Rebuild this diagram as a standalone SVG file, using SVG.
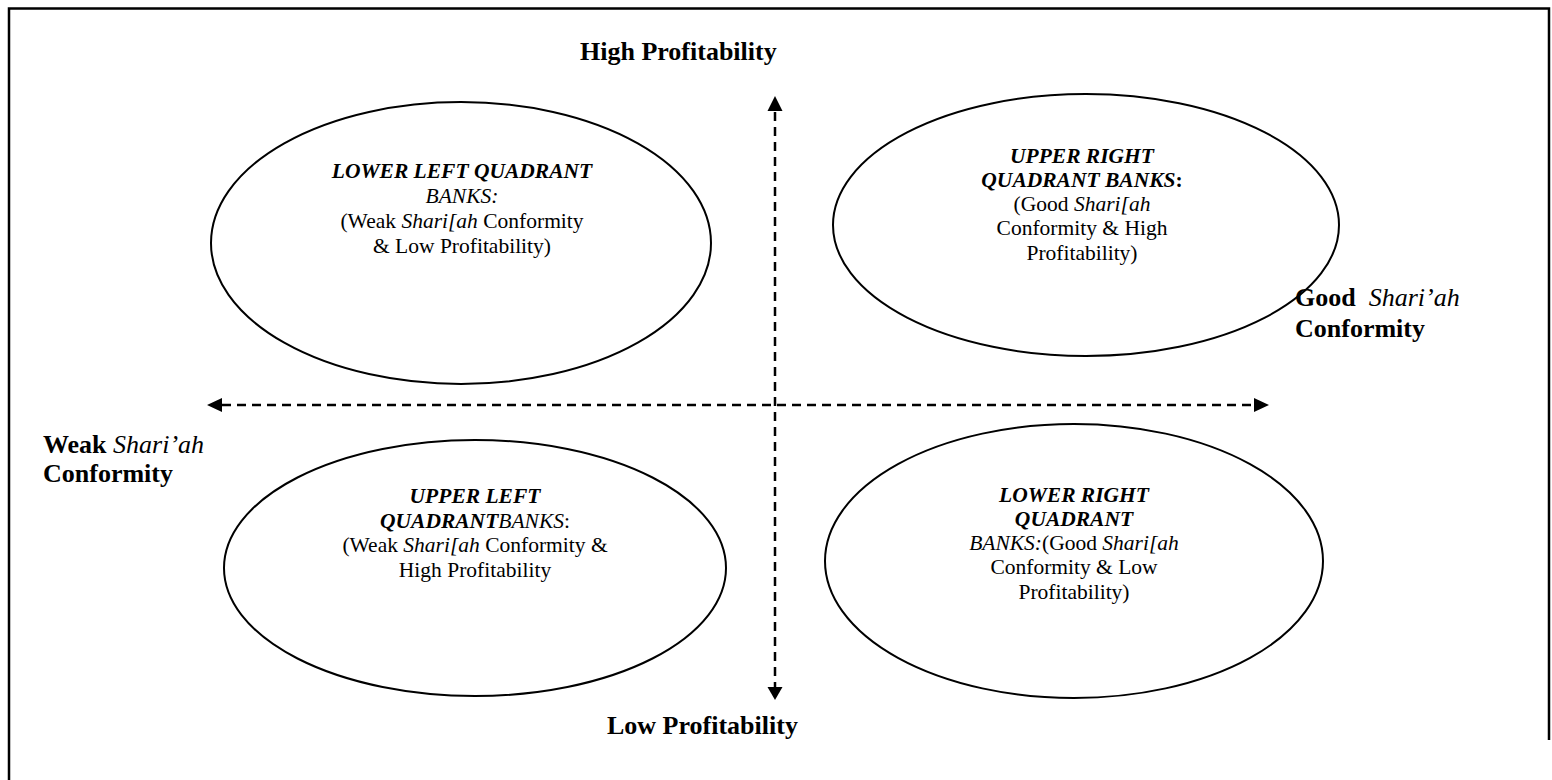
<svg xmlns="http://www.w3.org/2000/svg" width="1552" height="780" viewBox="0 0 1552 780">
<style>
.frame{fill:none;stroke:#000;stroke-width:2.5}
.oval{fill:none;stroke:#000;stroke-width:2}
.axis{fill:none;stroke:#000;stroke-width:2.5;stroke-dasharray:9 6}
.head{fill:#000}
text{font-family:"Liberation Serif","Times New Roman",serif;fill:#000}
.lab{font-size:26px;font-weight:bold}
.in{font-size:21.5px;text-anchor:middle}
.bi{font-weight:bold;font-style:italic}
.it{font-style:italic;font-weight:normal}
.b{font-weight:bold}
.n{font-weight:normal}
</style>
<rect width="1552" height="780" fill="#fff"/>
<g id="frame">
<path class="frame" d="M9,780 V8.5 H1549 V740"/>
</g>
<g id="connectors">
<line class="axis" x1="775" y1="112" x2="775" y2="688"/>
<polygon class="head" points="775,96 767.5,111 782.5,111"/>
<polygon class="head" points="775,700 767.5,687 782.5,687"/>
<line class="axis" x1="222" y1="405" x2="1254" y2="405"/>
<polygon class="head" points="207,405 222,398 222,412"/>
<polygon class="head" points="1269,405 1254,398 1254,412"/>
</g>
<g id="label-high">
<text class="lab" x="580" y="60">High Profitability</text>
</g>
<g id="label-low">
<text class="lab" x="607" y="734">Low Profitability</text>
</g>
<g id="label-weak">
<text class="lab" x="43" y="453">Weak <tspan class="it">Shari’ah</tspan></text>
<text class="lab" x="43" y="482">Conformity</text>
</g>
<g id="label-good">
<text class="lab" x="1295" y="306" xml:space="preserve">Good  <tspan class="it">Shari’ah</tspan></text>
<text class="lab" x="1295" y="337">Conformity</text>
</g>
<g id="node-lower-left">
<ellipse class="oval" cx="461" cy="243" rx="250" ry="141"/>
<text class="in" x="462" y="178"><tspan class="bi">LOWER LEFT QUADRANT</tspan></text>
<text class="in" x="462" y="203"><tspan class="it">BANKS:</tspan></text>
<text class="in" x="462" y="228">(Weak <tspan class="it">Shari[ah</tspan> Conformity</text>
<text class="in" x="462" y="253">&amp; Low Profitability)</text>
</g>
<g id="node-upper-right">
<ellipse class="oval" cx="1086" cy="225" rx="253" ry="131"/>
<text class="in" x="1082" y="163"><tspan class="bi">UPPER RIGHT</tspan></text>
<text class="in" x="1082" y="187"><tspan class="bi">QUADRANT BANKS</tspan><tspan class="b">:</tspan></text>
<text class="in" x="1082" y="211">(Good <tspan class="it">Shari[ah</tspan></text>
<text class="in" x="1082" y="235">Conformity &amp; High</text>
<text class="in" x="1082" y="260">Profitability)</text>
</g>
<g id="node-upper-left">
<ellipse class="oval" cx="475" cy="568" rx="251" ry="128"/>
<text class="in" x="475" y="503"><tspan class="bi">UPPER LEFT</tspan></text>
<text class="in" x="475" y="528"><tspan class="bi">QUADRANT</tspan><tspan class="it">BANKS</tspan>:</text>
<text class="in" x="475" y="552">(Weak <tspan class="it">Shari[ah</tspan> Conformity &amp;</text>
<text class="in" x="475" y="577">High Profitability</text>
</g>
<g id="node-lower-right">
<ellipse class="oval" cx="1074" cy="561" rx="249" ry="137"/>
<text class="in" x="1074" y="502"><tspan class="bi">LOWER RIGHT</tspan></text>
<text class="in" x="1074" y="526"><tspan class="bi">QUADRANT</tspan></text>
<text class="in" x="1074" y="550"><tspan class="it">BANKS:</tspan>(Good <tspan class="it">Shari[ah</tspan></text>
<text class="in" x="1074" y="574">Conformity &amp; Low</text>
<text class="in" x="1074" y="599">Profitability)</text>
</g>
</svg>
